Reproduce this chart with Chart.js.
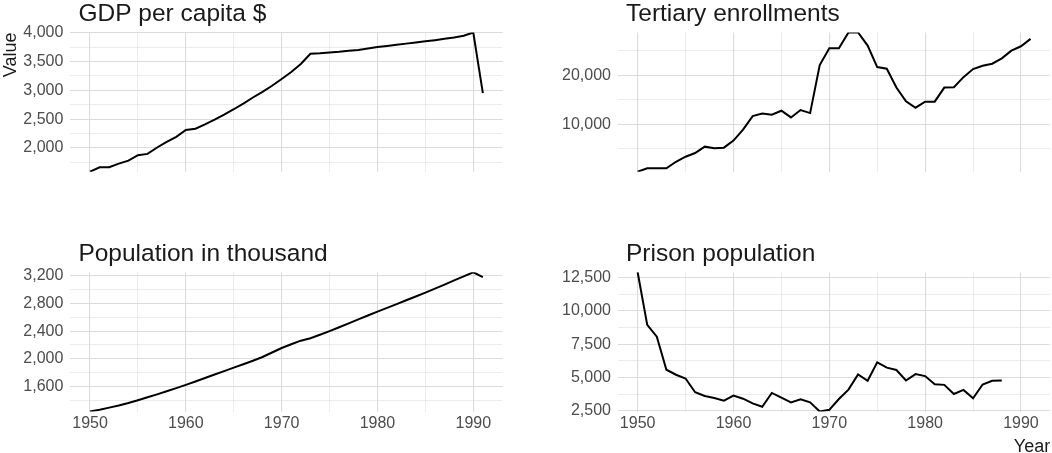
<!DOCTYPE html>
<html>
<head>
<meta charset="utf-8">
<script src="https://cdn.jsdelivr.net/npm/chart.js@4.4.0/dist/chart.umd.min.js"></script>
<style>
body{margin:0;background:#fff;width:1052px;height:453px;overflow:hidden;position:relative}
canvas{position:absolute}
</style>
</head>
<body>
<canvas id="gdp" width="520" height="200" style="left:0;top:0"></canvas>
<canvas id="tertiary" width="522" height="200" style="left:530px;top:0"></canvas>
<canvas id="population" width="520" height="223" style="left:0;top:230px"></canvas>
<canvas id="prison" width="522" height="230" style="left:530px;top:230px"></canvas>
<script>
const years = [1950,1951,1952,1953,1954,1955,1956,1957,1958,1959,1960,1961,1962,1963,1964,1965,1966,1967,1968,1969,
               1970,1971,1972,1973,1974,1975,1976,1977,1978,1979,1980,1981,1982,1983,1984,1985,1986,1987,1988,1989,1990,1991]

const gdpValues = [1587,1663,1665,1727,1780,1873,1896,2007,2106,2193,2310,2333,2409,2491,2578,2671,2770,2875,2974,3079,
                   3196,3318,3458,3633,3642,3655,3668,3685,3700,3725,3750,3770,3790,3810,3830,3850,3870,3893,3918,3948,4003,2951]
const tertiaryValues = [300,1000,1020,1010,2330,3354,4108,5409,5066,5203,6642,8902,11642,12190,11917,12738,11370,12875,12260,22054,
                        25480,25480,28700,28700,26030,21643,21300,17465,14656,13355,14588,14588,17465,17535,19590,21233,21918,22330,23425,25000,25890,27400]
const populationValues = [1234,1260,1290,1322,1358,1398,1440,1483,1527,1573,1620,1670,1720,1770,1820,1870,1920,1970,2025,2090,
                          2155,2210,2262,2298,2348,2400,2457,2513,2570,2627,2683,2737,2792,2848,2903,2958,3017,3076,3136,3195,3254,3185]
// prison series stops in 1988
const prisonValues = [12900,8958,8072,5593,5214,4935,3898,3620,3468,3266,3645,3417,3063,2810,3847,3493,3139,3367,3139,2456,
                      2582,3392,4100,5239,4758,6150,5745,5568,4784,5264,5112,4505,4454,3771,4075,3443,4480,4758,4784]

const yearTicks = [1950,1960,1970,1980,1990]
const yearMinor = [1955,1965,1975,1985]
const gdpTicks = [2000,2500,3000,3500,4000]
const gdpMinor = [1750,2250,2750,3250,3750]
const tertiaryTicks = [10000,20000]
const tertiaryMinor = [5000,15000,25000]
const populationTicks = [1600,2000,2400,2800,3200]
const populationMinor = [1400,1800,2200,2600,3000]
const prisonTicks = [2500,5000,7500,10000,12500]
const prisonMinor = [3750,6250,8750,11250]

const FONT = '"Liberation Sans", Arial, Helvetica, sans-serif'
const GRID = '#dcdcdc'

// ggplot style 5% padding on x
const xPad = (years[years.length-1] - years[0]) * 0.05
const xMin = years[0] - xPad
const xMax = years[years.length-1] + xPad

// facet strip title drawn above the panel, left aligned
const panelTitle = {
    id: 'panelTitle',
    afterDraw(chart, args, opts){
        const {ctx, chartArea} = chart
        ctx.save()
        ctx.font = `24.5px ${FONT}`
        ctx.fillStyle = '#1a1a1a'
        ctx.textBaseline = 'alphabetic'
        ctx.fillText(opts.text, chartArea.left + 8, chartArea.top - 11.5)
        ctx.restore()
    }
}

function setTicks(major, minor){
    return (scale)=>{
        scale.ticks = major.concat(minor).sort((a,b)=>a-b).map(v=>({value:v}))
    }
}

function gridWidth(major){
    return (ctx)=> major.includes(ctx.tick.value) ? 1.1 : 0.55
}

function makeChart(id, values, p){
    const data = values.map((v,i)=>({x:years[i], y:v}))
    return new Chart(document.getElementById(id), {
        type: 'line',
        data: {datasets: [{data: data, borderColor: '#000', borderWidth: 2, pointRadius: 0, tension: 0, fill: false}]},
        plugins: [panelTitle],
        options: {
            responsive: false,
            animation: false,
            layout: {padding: p.padding},
            plugins: {legend: {display: false}, tooltip: {enabled: false}, panelTitle: {text: p.title}},
            scales: {
                x: {
                    type: 'linear', min: xMin, max: xMax,
                    afterBuildTicks: setTicks(yearTicks, yearMinor),
                    grid: {color: GRID, lineWidth: gridWidth(yearTicks), drawTicks: false},
                    border: {display: false},
                    ticks: {display: p.showX, autoSkip: false, padding: 2.6, color: '#4d4d4d', font: {family: FONT, size: 16},
                            callback: v => yearTicks.includes(v) ? String(v) : ''},
                    title: {display: !!p.xTitle, text: p.xTitle, align: 'end', color: '#1a1a1a', padding: 0, font: {family: FONT, size: 18}}
                },
                y: {
                    type: 'linear', min: Math.min(...values), max: Math.max(...values),
                    afterBuildTicks: setTicks(p.major, p.minor),
                    afterFit: (scale)=>{ scale.width = p.yWidth },
                    grid: {color: GRID, lineWidth: gridWidth(p.major), drawTicks: false},
                    border: {display: false},
                    ticks: {autoSkip: false, padding: 7, color: '#4d4d4d', font: {family: FONT, size: 16},
                            callback: v => p.major.includes(v) ? v.toLocaleString('en-US') : ''},
                    title: {display: !!p.yTitle, text: p.yTitle, align: 'end', color: '#1a1a1a', padding: 0, font: {family: FONT, size: 18}}
                }
            }
        }
    })
}

makeChart('gdp', gdpValues, {title: 'GDP per capita $', major: gdpTicks, minor: gdpMinor, yWidth: 70.4, yTitle: 'Value',
    showX: false, padding: {left: 0, top: 32.5, right: 17.5, bottom: 28.3}})
makeChart('tertiary', tertiaryValues, {title: 'Tertiary enrollments', major: tertiaryTicks, minor: tertiaryMinor, yWidth: 88,
    showX: false, padding: {left: 0, top: 32.5, right: 1.8, bottom: 28.3}})
makeChart('population', populationValues, {title: 'Population in thousand', major: populationTicks, minor: populationMinor, yWidth: 70.4,
    showX: true, padding: {left: 0, top: 42.3, right: 17.5, bottom: 17.1}})
makeChart('prison', prisonValues, {title: 'Prison population', major: prisonTicks, minor: prisonMinor, yWidth: 88, xTitle: 'Year',
    showX: true, padding: {left: 0, top: 42.3, right: 1.8, bottom: 2.5}})
</script>
</body>
</html>
